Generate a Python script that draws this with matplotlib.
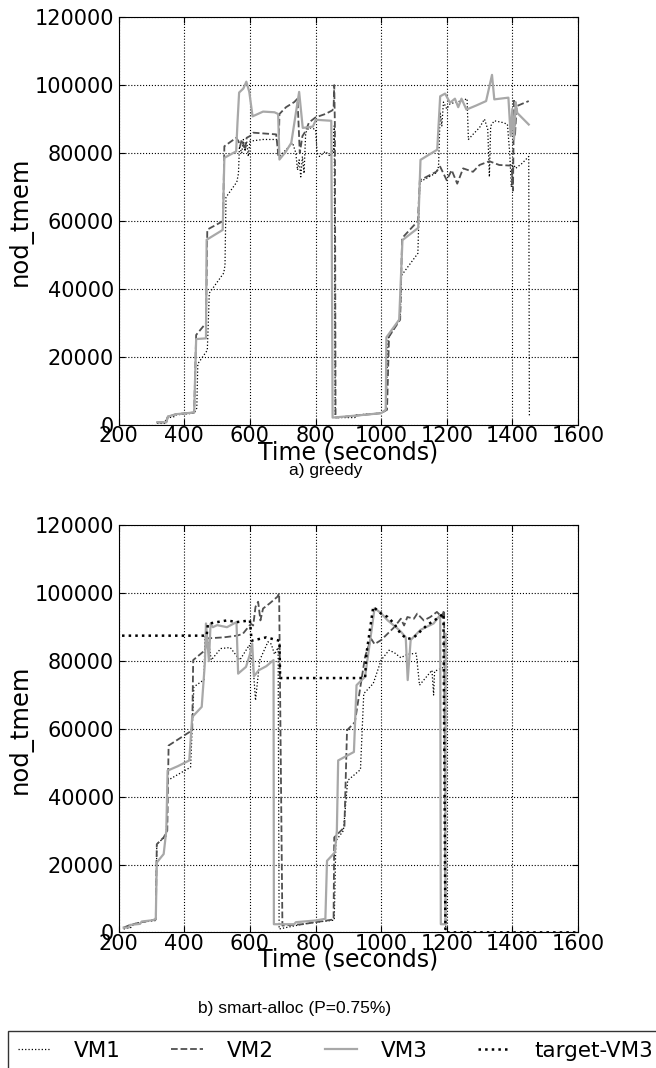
import matplotlib
matplotlib.use('Agg')
import matplotlib.pyplot as plt

plt.rcParams['font.family'] = ['DejaVu Sans']
plt.rcParams['xtick.direction'] = 'in'
plt.rcParams['ytick.direction'] = 'in'
plt.rcParams['xtick.top'] = True
plt.rcParams['ytick.right'] = True
plt.rcParams['xtick.major.size'] = 4
plt.rcParams['ytick.major.size'] = 4
plt.rcParams['xtick.major.pad'] = 1

# ---- a) greedy ----
vm1_a_t = [317, 340, 345, 370, 375, 430, 438, 441, 470, 473, 476, 520, 524, 527, 560, 565, 568, 575, 580,
           585, 590, 595, 600, 640, 686, 690, 700, 730, 740, 745, 750, 755, 760, 765, 770, 780, 800, 805,
           812, 830, 845, 850, 855, 857, 860,
           920, 925, 1000, 1015, 1021, 1058, 1062, 1112, 1118, 1168, 1175, 1180, 1185, 1190, 1200, 1210,
           1230, 1250, 1262, 1266, 1280, 1300, 1315, 1325, 1330, 1334, 1345, 1370, 1385, 1392, 1397,
           1402, 1410, 1430, 1450, 1452]
vm1_a_v = [500, 500, 2000, 2500, 3000, 3500, 5000, 18000, 22000, 30000, 38800, 44700, 47000, 67000, 71500,
           74000, 82000, 80000, 84000, 80500, 83500, 79000, 83500, 84000, 84000, 79000, 80000, 83000, 80000,
           75000, 78000, 73000, 79000, 74000, 86000, 87500, 87000, 80000, 79000, 80500, 79000, 81000, 80000,
           88000, 2200,
           2200, 3000, 3500, 4500, 25500, 31500, 44000, 50500, 71500, 74200, 76000, 92000, 88000, 95000,
           93000, 94500, 95000, 95500, 96000, 84000, 85500, 87500, 90000, 87000, 73000, 88000, 89500,
           89000, 88500, 80000, 70000, 77000, 75500, 77000, 79000, 2500]

vm2_a_t = [317, 345, 350, 375, 430, 436, 466, 470, 518, 522, 558, 565, 570, 575, 585, 590, 600, 610, 680,
           687, 690, 710, 735, 745, 752, 760, 770, 780, 800, 830, 850, 855, 857, 859, 861,
           925, 1000, 1018, 1024, 1058, 1064, 1112, 1118, 1168, 1180, 1200, 1215, 1232, 1250, 1280, 1300,
           1330, 1360, 1398, 1402, 1405, 1408, 1413, 1430, 1450]
vm2_a_v = [800, 800, 2500, 3200, 3700, 26500, 30000, 57500, 60000, 82000, 84500, 83500, 82000, 84000, 81000,
           84500, 85000, 86000, 85500, 79000, 91500, 93500, 95000, 96000, 80000, 85000, 86500, 89000, 90500,
           91500, 92500, 93000, 100000, 88000, 2200,
           2800, 3500, 4500, 26000, 31000, 55000, 60000, 72000, 74500, 76000, 72000, 75000, 71000, 75500,
           74500, 76500, 77600, 76500, 76300, 69000, 96000, 85000, 93800, 94500, 95300]

vm3_a_t = [317, 345, 350, 375, 430, 436, 466, 468, 517, 522, 558, 562, 567, 580, 589, 598, 608, 640, 675,
           686, 690, 710, 726, 750, 761, 792, 801, 848, 852,
           925, 1000, 1014, 1016, 1055, 1065, 1113, 1120, 1171, 1180, 1195, 1210, 1225, 1235, 1245, 1260,
           1290, 1320, 1338, 1345, 1388, 1395, 1400, 1405, 1410, 1415, 1450]
vm3_a_v = [800, 800, 2500, 3200, 3700, 25300, 25500, 54500, 57400, 78600, 80500, 88900, 97800, 99000, 101000,
           98000, 90800, 92200, 92000, 91500, 78100, 80500, 83000, 98000, 87400, 87800, 89800, 89500, 2200,
           2800, 3500, 4500, 25800, 31000, 54400, 58000, 78000, 81000, 96700, 97500, 94800, 96000, 93500,
           96000, 92800, 94000, 95300, 103000, 95800, 96300, 85000, 93000, 84000, 95000, 91800, 88400]

# ---- b) smart-alloc ----
vm1_b_t = [215, 240, 245, 270, 313, 316, 345, 349, 419, 429, 460, 463, 475, 482, 511, 540, 569, 598, 610,
           617, 630, 655, 665, 675, 686, 689, 760, 800, 857, 862, 885, 898, 937, 947, 976, 1000, 1024, 1040,
           1060, 1080, 1107, 1117, 1135, 1155, 1160, 1163, 1194, 1197]
vm1_b_v = [1000, 1500, 2500, 3000, 3500, 26000, 28500, 44800, 48700, 72400, 74500, 87200, 85000, 80300,
           83700, 84000, 80300, 84700, 78000, 68400, 80300, 85700, 85000, 82000, 84000, 1000, 2400, 3000,
           3600, 27000, 30000, 44800, 48000, 70400, 73400, 80300, 83200, 82500, 81000, 82000, 82300, 72900,
           75000, 77300, 70000, 77000, 78300, 0]

vm2_b_t = [215, 235, 270, 313, 316, 337, 348, 352, 424, 427, 463, 470, 520, 560, 578, 603, 610, 617, 625,
           632, 640, 660, 684, 689, 699, 760, 800, 855, 857, 888, 896, 920, 951, 960, 970, 980, 1000, 1040,
           1060, 1070, 1080, 1100, 1110, 1130, 1150, 1170, 1185, 1192, 1196]
vm2_b_v = [1400, 2200, 3000, 3800, 26000, 28000, 30000, 55100, 59600, 80300, 83200, 86700, 87000, 87500,
           88000, 91000, 90500, 96000, 97500, 92000, 95500, 97000, 99000, 100000, 2000, 2400, 3000, 3800,
           28000, 31000, 59600, 62000, 81300, 84000, 86500, 85000, 86200, 90000, 92500, 90500, 93000,
           92500, 94000, 92000, 93000, 94500, 93000, 95000, 2000]

vm3_b_t = [215, 230, 235, 265, 270, 305, 313, 316, 337, 345, 349, 380, 415, 424, 453, 463, 466, 470, 475,
           480, 487, 500, 530, 559, 564, 588, 600, 607, 612, 627, 650, 672, 673, 735, 740, 800, 830, 835,
           859, 865, 869, 917, 925, 951, 961, 980, 1000, 1020, 1044, 1060, 1075, 1081, 1090, 1120, 1160,
           1180, 1182, 1196, 1197]
vm3_b_v = [1400, 1400, 2200, 2500, 3200, 3600, 4000, 20600, 23100, 30000, 47700, 49000, 50700, 63500, 66500,
           80000, 91100, 86000, 80000, 91000, 90000, 90600, 90000, 91500, 76300, 78300, 82000, 85200, 75500,
           77300, 78500, 80300, 2400, 2400, 3000, 3500, 4000, 21100, 23600, 30000, 50700, 53200, 72900,
           75400, 82300, 95600, 94100, 92000, 90100, 88700, 87000, 74400, 86200, 89200, 91100, 93600, 2400,
           2400, 88000]

target_b_t = [210, 468, 472, 500, 530, 560, 600, 605, 650, 690, 692, 951, 955, 976, 1000, 1020, 1040, 1060,
              1080, 1100, 1140, 1170, 1190, 1196, 1600]
target_b_v = [87500, 87500, 91000, 91500, 92000, 91500, 92000, 86000, 87000, 86000, 75000, 75000, 82000,
              96000, 94000, 93000, 91000, 88000, 86500, 87000, 90600, 92500, 94000, 0, 0]

sty_vm1 = dict(color='k', linestyle=':', linewidth=0.9)
sty_vm2 = dict(color='#505050', linestyle='--', linewidth=1.3)
sty_vm3 = dict(color='#a8a8a8', linestyle='-', linewidth=1.6)
sty_tgt = dict(color='k', linestyle=':', linewidth=1.8)

fig = plt.figure(figsize=(6.56, 10.68), dpi=100)
ax1 = fig.add_axes([0.181, 0.602, 0.700, 0.382])
ax2 = fig.add_axes([0.181, 0.127, 0.700, 0.381])

ax1.plot(vm1_a_t, vm1_a_v, label='VM1', **sty_vm1)
ax1.plot(vm2_a_t, vm2_a_v, label='VM2', **sty_vm2)
ax1.plot(vm3_a_t, vm3_a_v, label='VM3', **sty_vm3)

ax2.plot(vm1_b_t, vm1_b_v, **sty_vm1)
ax2.plot(vm2_b_t, vm2_b_v, **sty_vm2)
ax2.plot(vm3_b_t, vm3_b_v, **sty_vm3)
ax2.plot(target_b_t, target_b_v, label='target-VM3', **sty_tgt)

for ax in (ax1, ax2):
    ax.set_xlim(200, 1600)
    ax.set_ylim(0, 120000)
    ax.set_xticks(range(200, 1601, 200))
    ax.set_yticks(range(0, 120001, 20000))
    ax.tick_params(labelsize=15)
    ax.grid(True, color='k', linestyle=':', linewidth=0.8)
    ax.set_xlabel('Time (seconds)', fontsize=17, labelpad=-4.5)
    ax.set_ylabel('nod_tmem', fontsize=17.5, labelpad=1)

fig.text(0.497, 1 - 470 / 1068, 'a) greedy', ha='center', va='center',
         fontsize=12.5, family=['Liberation Sans'])
fig.text(0.449, 1 - 1009 / 1068, 'b) smart-alloc (P=0.75%)', ha='center', va='center',
         fontsize=12.5, family=['Liberation Sans'])

h1, l1 = ax1.get_legend_handles_labels()
h2, l2 = ax2.get_legend_handles_labels()
leg = fig.legend(h1 + h2, l1 + l2, loc='upper left', bbox_to_anchor=(0.012, 1 - 1031 / 1068),
                 ncol=4, fontsize=15.5, frameon=True, fancybox=False, handlelength=1.5,
                 handletextpad=1.1, columnspacing=2.35, borderpad=0.45, borderaxespad=0)
leg.get_frame().set_edgecolor('k')
leg.get_frame().set_linewidth(1.0)

fig.savefig('out.png', dpi=100)
